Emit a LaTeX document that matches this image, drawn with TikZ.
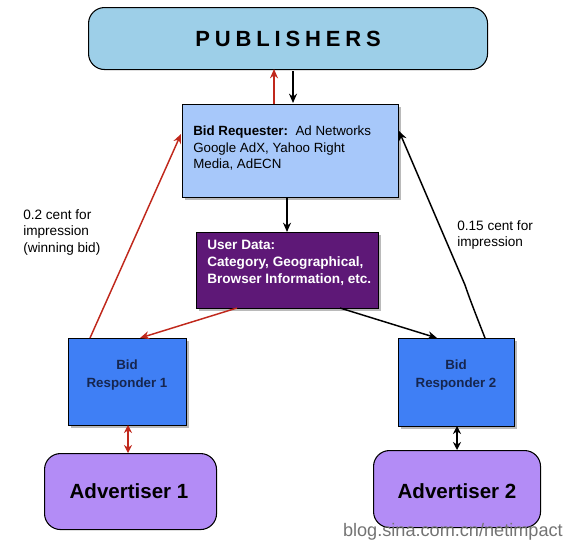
\documentclass[tikz,border=0pt]{standalone}
\usepackage{fontspec}
\setmainfont{Liberation Sans}
\usetikzlibrary{shadows,arrows.meta}
\definecolor{pubfill}{HTML}{9DCFE8}
\definecolor{reqfill}{HTML}{A7C8FA}
\definecolor{udfill}{HTML}{5E1877}
\definecolor{respfill}{HTML}{3F7FF5}
\definecolor{advfill}{HTML}{B38CF6}
\definecolor{navy}{HTML}{16264F}
\definecolor{redarrow}{HTML}{C0281C}
\tikzset{
  boxshadow/.style={drop shadow={shadow xshift=2pt,shadow yshift=-2pt,fill=black!45,opacity=0.6}},
  rectbox/.style={draw=black, line width=0.8pt, boxshadow, inner sep=0pt, anchor=north west},
  roundbox/.style={draw=black, line width=0.8pt, rounded corners=12pt, inner sep=0pt, anchor=north west},
  conn/.style={line width=1.1pt, -{Stealth[length=7pt,width=6pt]}},
  redconn/.style={conn, draw=redarrow},
  blkconn/.style={conn, draw=black},
  lbl/.style={font=\fontsize{10.2}{12.4}\selectfont, align=left, anchor=north west, inner sep=0pt},
}
\begin{document}
\begin{tikzpicture}[x=0.75pt,y=-0.75pt]
\useasboundingbox (0,0) rectangle (563,546);
% boxes
\node[roundbox, fill=pubfill, minimum width=399*0.75pt, minimum height=62*0.75pt] (pub) at (88,7) {};
\node at (pub.center) {\fontsize{16.5}{18}\selectfont\bfseries\addfontfeature{LetterSpace=22}PUBLISHERS};
\node[rectbox, fill=reqfill, minimum width=216*0.75pt, minimum height=93*0.75pt] (req) at (182,104) {};
\node[lbl, font=\fontsize{10}{12.3}\selectfont] (reqt) at (193,126) {\textbf{Bid Requester:}\ \ Ad Networks\\Google AdX, Yahoo Right\\Media, AdECN};
\node[rectbox, fill=udfill, minimum width=182*0.75pt, minimum height=76*0.75pt] (ud) at (196,232) {};
\node[lbl, font=\fontsize{10.2}{12.8}\selectfont\bfseries, text=white] (udt) at (207,240) {User Data:\\Category, Geographical,\\Browser Information, etc.};
\node[rectbox, fill=respfill, minimum width=118*0.75pt, minimum height=87*0.75pt] (r1) at (68,338) {};
\node[font=\fontsize{10}{13}\selectfont\bfseries, text=navy, align=center] (r1t) at (127,375) {Bid\\Responder 1};
\node[rectbox, fill=respfill, minimum width=116*0.75pt, minimum height=88*0.75pt] (r2) at (398,338) {};
\node[font=\fontsize{10}{13}\selectfont\bfseries, text=navy, align=center] (r2t) at (456,375) {Bid\\Responder 2};
\node[roundbox, fill=advfill, minimum width=172*0.75pt, minimum height=76*0.75pt] (a1) at (44,453) {};
\node[font=\fontsize{15.4}{18}\selectfont\bfseries] (a1t) at (129,491) {Advertiser 1};
\node[roundbox, fill=advfill, minimum width=167*0.75pt, minimum height=77*0.75pt] (a2) at (373,450) {};
\node[font=\fontsize{15.4}{18}\selectfont\bfseries] (a2t) at (457,491) {Advertiser 2};
% connector anchor points
\coordinate (reqtopR) at (274,104);
\coordinate (pubbotR) at (274,69);
\coordinate (pubbotB) at (293,71);
\coordinate (reqtopB) at (293,103);
\coordinate (reqbot) at (287,197);
\coordinate (udtop) at (287,232);
\coordinate (udbotL) at (237,308);
\coordinate (udbotR) at (340,308);
\coordinate (r1top) at (140,338);
\coordinate (r1topL) at (90,338);
\coordinate (r2top) at (437,338);
\coordinate (r2topR) at (485,338);
\coordinate (reqleft) at (181,134);
\coordinate (reqright) at (399,131);
\coordinate (r1bot) at (128,425);
\coordinate (a1top) at (128,453);
\coordinate (r2bot) at (457,426);
\coordinate (a2top) at (457,450);
% connectors
\draw[redconn] (reqtopR) -- (pubbotR);
\draw[blkconn] (pubbotB) -- (reqtopB);
\draw[blkconn] (reqbot) -- (udtop);
\draw[redconn] (udbotL) -- (r1top);
\draw[blkconn] (udbotR) -- (r2top);
\draw[redconn] (r1topL) -- (reqleft);
\draw[blkconn] (r2topR) .. controls (478,320) and (470,300) .. (465,285) -- (reqright);
\draw[redconn, {Stealth[length=6pt,width=6pt]}-{Stealth[length=6pt,width=6pt]}] (r1bot) -- (a1top);
\draw[blkconn, {Stealth[length=6pt,width=6pt]}-{Stealth[length=6pt,width=6pt]}] (r2bot) -- (a2top);
% labels
\node[lbl] (l1) at (23,209) {0.2 cent for\\impression\\(winning bid)};
\node[lbl] (l2) at (457,220) {0.15 cent for\\impression};
% watermark
\node[anchor=east, inner sep=0pt, text=black!55, font=\fontsize{13.6}{16}\selectfont] (wm) at (563,532) {blog.sina.com.cn/netimpact};
\end{tikzpicture}
\end{document}
